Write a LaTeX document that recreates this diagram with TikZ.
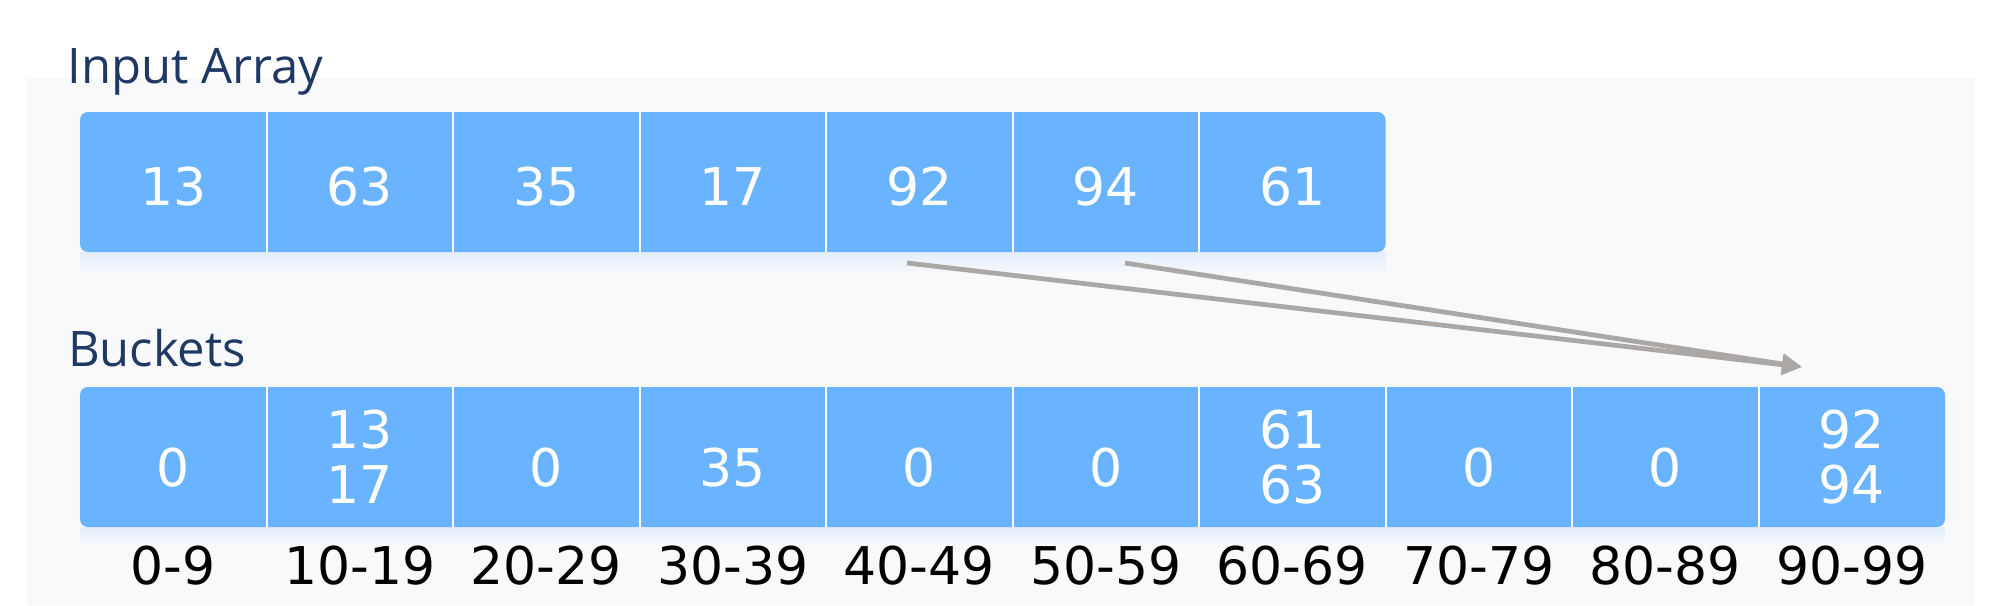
\documentclass[tikz,border=0pt]{standalone}
\usepackage{fontspec}
\setmainfont{DejaVu Sans}
\newfontfamily\headfont{Open Sans}
\usepackage{xcolor}
\usetikzlibrary{arrows.meta,positioning,fit,backgrounds}

\definecolor{cellblue}{HTML}{6AB3FE}
\definecolor{headnavy}{HTML}{1F3864}
\definecolor{arrowgray}{HTML}{ABA7A5}
\definecolor{panelgray}{HTML}{F8F9FB}
\definecolor{glowblue}{HTML}{E3EEFB}

\begin{document}
\begin{tikzpicture}[
  node distance=0pt,
  cell/.style={minimum width=74.6pt, minimum height=56pt, inner sep=0pt,
    outer sep=0pt, text=white, font=\fontsize{20.8}{22}\selectfont},
  val/.style={cell, text height=18.4pt, text depth=0pt},
  bval/.style={cell, text height=23.2pt, text depth=0pt},
  pair/.style={cell, align=center},
  row/.style={fill=cellblue, rounded corners=3.2pt, inner sep=0pt},
  sep/.style={draw=white, line width=0.8pt},
  rangelabel/.style={inner sep=0pt, outer sep=0pt,
    font=\fontsize{20.8}{22}\selectfont},
  heading/.style={inner sep=0pt, anchor=base west, text=headnavy,
    font=\headfont\fontsize{19.6}{22}\selectfont},
  arrow/.style={-{Triangle[length=8pt,width=8pt]}, line width=1.9pt,
    draw=arrowgray}
]
  \useasboundingbox (0,0) rectangle (800pt,242pt);

  % input array
  \node[val] (in1) at (69.3pt,169.2pt) {13};
  \node[val, right=of in1] (in2) {63};
  \node[val, right=of in2] (in3) {35};
  \node[val, right=of in3] (in4) {17};
  \node[val, right=of in4] (in5) {92};
  \node[val, right=of in5] (in6) {94};
  \node[val, right=of in6] (in7) {61};

  % buckets
  \node[bval, below=54pt of in1] (b1) {0};
  \node[pair, right=of b1] (b2) {13\\17};
  \node[bval, right=of b2] (b3) {0};
  \node[bval, right=of b3] (b4) {35};
  \node[bval, right=of b4] (b5) {0};
  \node[bval, right=of b5] (b6) {0};
  \node[pair, right=of b6] (b7) {61\\63};
  \node[bval, right=of b7] (b8) {0};
  \node[bval, right=of b8] (b9) {0};
  \node[pair, right=of b9] (b10) {92\\94};

  % ranges
  \node[rangelabel, below=7.6pt of b1] (r1) {0-9};
  \node[rangelabel, below=7.6pt of b2] (r2) {10-19};
  \node[rangelabel, below=7.6pt of b3] (r3) {20-29};
  \node[rangelabel, below=7.6pt of b4] (r4) {30-39};
  \node[rangelabel, below=7.6pt of b5] (r5) {40-49};
  \node[rangelabel, below=7.6pt of b6] (r6) {50-59};
  \node[rangelabel, below=7.6pt of b7] (r7) {60-69};
  \node[rangelabel, below=7.6pt of b8] (r8) {70-79};
  \node[rangelabel, below=7.6pt of b9] (r9) {80-89};
  \node[rangelabel, below=7.6pt of b10] (r10) {90-99};

  \node[heading] (inhead) at ([xshift=-5.2pt,yshift=11.6pt]in1.north west)
    {Input Array};
  \node[heading] (bhead) at ([xshift=-5pt,yshift=8.4pt]b1.north west)
    {Buckets};

  \begin{scope}[on background layer]
    \fill[panelgray] (10.8pt,0) rectangle (790pt,210.8pt);
    \shade[top color=glowblue, bottom color=panelgray]
      ([yshift=-8.4pt]in1.south west) rectangle (in7.south east);
    \shade[top color=glowblue, bottom color=panelgray]
      ([yshift=-7pt]b1.south west) rectangle (b10.south east);
    \node[row, fit=(in1)(in7)] (inrow) {};
    \node[row, fit=(b1)(b10)] (brow) {};
  \end{scope}

  \draw[sep] (in1.north east) -- (in1.south east)
    (in2.north east) -- (in2.south east)
    (in3.north east) -- (in3.south east)
    (in4.north east) -- (in4.south east)
    (in5.north east) -- (in5.south east)
    (in6.north east) -- (in6.south east);
  \draw[sep] (b1.north east) -- (b1.south east)
    (b2.north east) -- (b2.south east)
    (b3.north east) -- (b3.south east)
    (b4.north east) -- (b4.south east)
    (b5.north east) -- (b5.south east)
    (b6.north east) -- (b6.south east)
    (b7.north east) -- (b7.south east)
    (b8.north east) -- (b8.south east)
    (b9.north east) -- (b9.south east);

  \coordinate (tip) at ([xshift=-19.9pt,yshift=8pt]b10.north);
  \draw[arrow] ([xshift=-4.9pt,yshift=-4.4pt]in5.south) -- (tip);
  \draw[arrow] ([xshift=7.7pt,yshift=-4.4pt]in6.south) -- (tip);
\end{tikzpicture}
\end{document}
